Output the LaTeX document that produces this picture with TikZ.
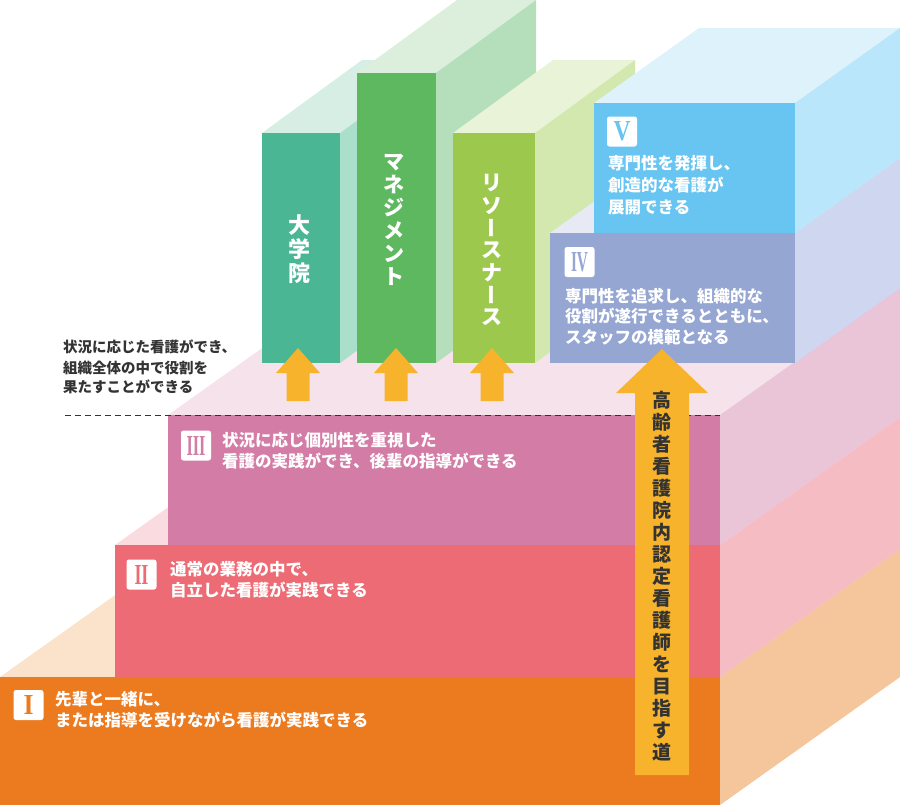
\documentclass[tikz,border=0pt]{standalone}
\usepackage{fontspec}
\usepackage{graphicx}
\newfontfamily\jp{Noto Sans CJK JP}
\newfontfamily\rmn{Liberation Serif}
\definecolor{oI}{HTML}{EC7A1F}\definecolor{oIs}{HTML}{F5C59B}\definecolor{oIt}{HTML}{FBE2CB}
\definecolor{pII}{HTML}{EC6B74}\definecolor{pIIs}{HTML}{F5BCC3}\definecolor{pIIt}{HTML}{FADCE0}
\definecolor{mIII}{HTML}{D37CA6}\definecolor{mIIIs}{HTML}{EAC4D7}\definecolor{mIIIt}{HTML}{F6E2EB}
\definecolor{lIV}{HTML}{95A6D2}\definecolor{lIVs}{HTML}{CFD6EF}\definecolor{lIVt}{HTML}{E7E9F5}
\definecolor{bV}{HTML}{68C5F1}\definecolor{bVs}{HTML}{B9E6FA}\definecolor{bVt}{HTML}{DDF2FB}
\definecolor{gA}{HTML}{4BB694}\definecolor{gAs}{HTML}{AADFCB}\definecolor{gAt}{HTML}{D7EEE4}
\definecolor{gB}{HTML}{5DB860}\definecolor{gBs}{HTML}{B5DEBA}\definecolor{gBt}{HTML}{DCEFDC}
\definecolor{gC}{HTML}{9DC84E}\definecolor{gCs}{HTML}{D3E8AF}\definecolor{gCt}{HTML}{E9F3D8}
\definecolor{arr}{HTML}{F7B32B}
\definecolor{dark}{HTML}{333333}
\newcommand\mkslab[9]{%
  \fill[#9] (#1,#2) -- (#3,#2) -- ({#3+#5},{#2-#6}) -- ({#1+#5},{#2-#6}) -- cycle;
  \fill[#8] (#3,#2) -- ({#3+#5},{#2-#6}) -- ({#3+#5},{#4-#6}) -- (#3,#4) -- cycle;
  \fill[#7] (#1,#2) rectangle (#3,#4);
}
\newcommand\uparr[6]{%
  \fill[arr] (#1,#2) -- ({#1+#4},#3) -- ({#1+#5},#3) -- ({#1+#5},#6) -- ({#1-#5},#6) -- ({#1-#5},#3) -- ({#1-#4},#3) -- cycle;
}
\newcommand\jpvbar{\rotatebox[origin=c]{90}{\raisebox{0pt}[0.88em][0.12em]{ー}}}
\begin{document}
\begin{tikzpicture}[x=1pt,y=-1pt,
  wtxt/.style={font=\jp\bfseries\fontsize{16.5}{21}\selectfont, text=white, anchor=west, inner sep=0pt, text height=14.52pt, text depth=1.98pt},
  dtxt/.style={font=\jp\bfseries\fontsize{14.5}{20}\selectfont, text=dark, anchor=west, inner sep=0pt, text height=12.76pt, text depth=1.74pt},
  roadtxt/.style={font=\jp\bfseries\fontsize{19}{22}\selectfont, text=dark, anchor=center, inner sep=0pt, text height=16.72pt, text depth=2.28pt},
  booktxt/.style={font=\jp\bfseries\fontsize{#1}{#1}\selectfont, text=white, anchor=center, inner sep=0pt, text height=0.88*#1pt, text depth=0.12*#1pt},
  rbox/.style={fill=white, rounded corners=2.5pt, minimum width=30pt, minimum height=30pt, inner sep=0pt}]
\useasboundingbox (0,0) rectangle (900,807);
% steps
\mkslab{0}{677}{720}{805}{180}{128}{oI}{oIs}{oIt}
\mkslab{115}{545}{720}{677}{180}{128}{pII}{pIIs}{pIIt}
\mkslab{168}{415}{720}{545}{180}{128}{mIII}{mIIIs}{mIIIt}
\draw[dark, line width=1pt, dash pattern=on 6pt off 4pt] (65,415.5) -- (720,415.5);
% books
\mkslab{262}{133}{340}{363}{100}{73}{gA}{gAs}{gAt}
\mkslab{357}{73}{436}{363}{100}{73}{gB}{gBs}{gBt}
\mkslab{453}{133}{535}{363}{100}{73}{gC}{gCs}{gCt}
% IV, V
\mkslab{550}{233}{795}{363}{105}{75}{lIV}{lIVs}{lIVt}
\mkslab{594}{103}{795}{233}{105}{75}{bV}{bVs}{bVt}
% arrows
\uparr{298}{348}{373}{22}{11.5}{401}
\uparr{396}{348}{373}{22}{11.5}{401}
\uparr{492}{348}{373}{22}{11.5}{401}
\uparr{662}{349}{393}{46}{27}{775}
% roman boxes
\node[rbox, text=oI] (r1) at (28.5,705) {\resizebox{10pt}{19pt}{\rmn\bfseries I}};
\node[rbox, text=pII] (r2) at (141.5,574.5) {\resizebox{14pt}{19pt}{\rmn\bfseries II}};
\node[rbox, text=mIII] (r3) at (196,445.5) {\resizebox{19pt}{19pt}{\rmn\bfseries III}};
\node[rbox, text=lIV] (r4) at (579.5,262) {\resizebox{17pt}{19pt}{\rmn\bfseries IV}};
\node[rbox, text=bV] (r5) at (622,131.5) {\resizebox{17pt}{19pt}{\rmn\bfseries V}};
% step texts
\node[wtxt] (t1a) at (55,699.5) {先輩と一緒に、};
\node[wtxt] (t1b) at (55,720.5) {または指導を受けながら看護が実践できる};
\node[wtxt] (t2a) at (170,569.5) {通常の業務の中で、};
\node[wtxt] (t2b) at (170,590) {自立した看護が実践できる};
\node[wtxt] (t3a) at (222,440) {状況に応じ個別性を重視した};
\node[wtxt] (t3b) at (222,461) {看護の実践ができ、後輩の指導ができる};
\node[wtxt] (t4a) at (565,296) {専門性を追求し、組織的な};
\node[wtxt] (t4b) at (565,316.5) {役割が遂行できるとともに、};
\node[wtxt] (t4c) at (565,337) {スタッフの模範となる};
\node[wtxt] (t5a) at (608,163.5) {専門性を発揮し、};
\node[wtxt] (t5b) at (608,185) {創造的な看護が};
\node[wtxt] (t5c) at (608,207) {展開できる};
% left note
\node[dtxt] (n1) at (63,346.5) {状況に応じた看護ができ、};
\node[dtxt] (n2) at (63,367.5) {組織全体の中で役割を};
\node[dtxt] (n3) at (63,387) {果たすことができる};
% vertical texts
\foreach \c [count=\i] in {高,齢,者,看,護,院,内,認,定,看,護,師,を,目,指,す,道}
  \node[roadtxt] (road\i) at (662,{400+22*(\i-1)}) {\c};
\foreach \c [count=\i] in {大,学,院}
  \node[booktxt=22] (bkA\i) at (299,{225+24*(\i-1)}) {\c};
\foreach \c [count=\i] in {マ,ネ,ジ,メ,ン,ト}
  \node[booktxt=21] (bkB\i) at (394,{162+23*(\i-1)}) {\c};
\foreach \c [count=\i] in {リ,ソ,\jpvbar,ス,ナ,\jpvbar,ス}
  \node[booktxt=21] (bkC\i) at (492,{183+22.3*(\i-1)}) {\c};
\end{tikzpicture}
\end{document}
